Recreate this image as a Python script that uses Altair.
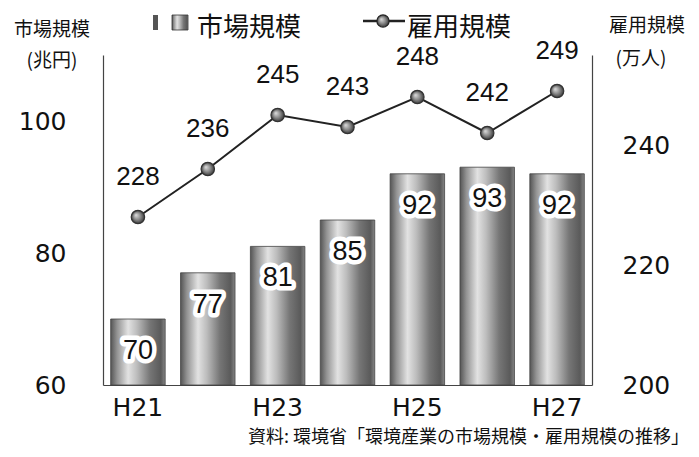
import altair as alt
import pandas as pd

years = ["H21", "H22", "H23", "H24", "H25", "H26", "H27"]
market = [70, 77, 81, 85, 92, 93, 92]          # 兆円
employment = [228, 236, 245, 243, 248, 242, 249]  # 万人
shown_labels = ["H21", "H23", "H25", "H27"]

df = pd.DataFrame({"year": years, "market": market, "employment": employment})

FONT = "Liberation Sans, Arial, Noto Sans CJK JP"
AXFONT = "DejaVu Sans"
JFONT = "Noto Sans CJK JP"

bar_grad = alt.LinearGradient(
    gradient="linear", x1=0, x2=1, y1=0, y2=0,
    stops=[
        alt.GradientStop(color="#555555", offset=0),
        alt.GradientStop(color="#949494", offset=0.12),
        alt.GradientStop(color="#e2e2e2", offset=0.32),
        alt.GradientStop(color="#bdbdbd", offset=0.48),
        alt.GradientStop(color="#767676", offset=0.72),
        alt.GradientStop(color="#5a5a5a", offset=0.92),
        alt.GradientStop(color="#858585", offset=1),
    ],
)
ball_grad = alt.RadialGradient(
    gradient="radial", x1=0.35, y1=0.35, r1=0, x2=0.5, y2=0.5, r2=0.5,
    stops=[
        alt.GradientStop(color="#e0e0e0", offset=0),
        alt.GradientStop(color="#8a8a8a", offset=0.55),
        alt.GradientStop(color="#3a3a3a", offset=1),
    ],
)

x_enc = alt.X(
    "year:N", sort=years, title=None,
    scale=alt.Scale(paddingInner=0.22, paddingOuter=0.11),
    axis=alt.Axis(
        labelExpr="indexof(" + str(shown_labels) + ", datum.value) >= 0 ? datum.value : ''",
        labelAngle=0, labelFontSize=25, labelFont=AXFONT, labelColor="#111",
        ticks=False, labelPadding=10, domainColor="#444", domainWidth=1.2,
    ),
)

y_left = alt.Y(
    "market:Q", title=None,
    scale=alt.Scale(domain=[60, 110], nice=False, zero=False),
    axis=alt.Axis(values=[60, 80, 100], ticks=False, labelFontSize=25,
                  labelFont=AXFONT, labelColor="#111", labelPadding=37,
                  grid=False, domainColor="#444", domainWidth=1.2),
)

bars = alt.Chart(df).mark_bar(color=bar_grad, stroke="#444", strokeWidth=0.8).encode(
    x=x_enc, y=y_left, y2=alt.datum(60)
)

bar_halo = alt.Chart(df).mark_text(
    font=FONT, fontSize=27, dy=32, stroke="white", strokeWidth=9,
    strokeJoin="round", fill="white"
).encode(x=alt.X("year:N", sort=years), y=alt.Y("market:Q"), text="market:Q")

bar_text = alt.Chart(df).mark_text(
    font=FONT, fontSize=27, dy=32, color="#111"
).encode(x=alt.X("year:N", sort=years), y=alt.Y("market:Q"), text="market:Q")

left_layer = alt.layer(bars, bar_halo, bar_text)

y_right = alt.Y(
    "employment:Q", title=None,
    scale=alt.Scale(domain=[200, 255], nice=False, zero=False),
    axis=alt.Axis(orient="right", values=[200, 220, 240], ticks=False,
                  labelFontSize=25, labelFont=AXFONT, labelColor="#111",
                  labelPadding=30, grid=False, domainColor="#444", domainWidth=1.2),
)

line = alt.Chart(df).mark_line(color="#222", strokeWidth=2).encode(
    x=alt.X("year:N", sort=years), y=y_right
)
pts = alt.Chart(df).mark_point(
    filled=True, fill=ball_grad, stroke="#333", strokeWidth=1.2, size=180, opacity=1
).encode(x=alt.X("year:N", sort=years), y=alt.Y("employment:Q"))
line_text = alt.Chart(df).mark_text(
    font=FONT, fontSize=26, dy=-40, color="#111"
).encode(x=alt.X("year:N", sort=years), y=alt.Y("employment:Q"), text="employment:Q")

right_layer = alt.layer(line, pts, line_text)


def label(txt, x, y, size, align="center", font=JFONT, weight="normal"):
    return alt.Chart(pd.DataFrame({"t": [txt]})).mark_text(
        font=font, fontSize=size, align=align, baseline="middle",
        color="#111", fontWeight=weight
    ).encode(x=alt.value(x), y=alt.value(y), text="t:N")


titles = [
    label("市場規模", -51, -25, 19),
    label("(兆円)", -51, 6, 19),
    label("雇用規模", 544, -29, 19),
    label("(万人)", 538, 4, 19),
    label("市場規模", 94, -27, 26, align="left"),
    label("雇用規模", 304, -27, 26, align="left"),
    label("資料: 環境省「環境産業の市場規模・雇用規模の推移」", 586, 383, 18, align="right"),
]

legend_bar = alt.Chart(pd.DataFrame({"a": [0]})).mark_rect(
    color=bar_grad, stroke="#333", strokeWidth=0.8
).encode(x=alt.value(69), x2=alt.value(85), y=alt.value(-40), y2=alt.value(-25))
legend_bar2 = alt.Chart(pd.DataFrame({"a": [0]})).mark_rect(
    color="#555"
).encode(x=alt.value(50), x2=alt.value(55), y=alt.value(-40), y2=alt.value(-25))
legend_line = alt.Chart(pd.DataFrame({"a": [0]})).mark_rule(
    color="#222", strokeWidth=2.5
).encode(x=alt.value(260), x2=alt.value(302), y=alt.value(-34))
legend_pt = alt.Chart(pd.DataFrame({"a": [0]})).mark_point(
    filled=True, fill=ball_grad, stroke="#222", strokeWidth=1.2, size=150, opacity=1
).encode(x=alt.value(280), y=alt.value(-34))

chart = alt.layer(
    left_layer, right_layer, legend_bar2, legend_bar, legend_line, legend_pt, *titles
).resolve_scale(y="independent").properties(
    width=489, height=330,
    autosize=alt.AutoSizeParams(type="none"),
    padding={"left": 95, "top": 47, "right": 99, "bottom": 64},
    background="white",
).configure_view(stroke=None)

chart.save("out.html", embed_options={"renderer": "svg", "actions": False})
